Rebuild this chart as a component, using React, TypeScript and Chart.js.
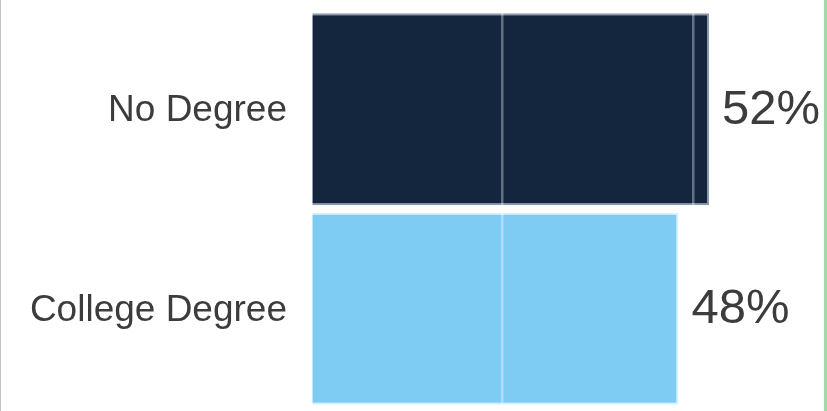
import { useEffect, useRef } from 'react';
import { Chart, registerables } from 'chart.js';

Chart.register(...registerables);

const categories = ['No Degree', 'College Degree'];
const values = [52, 48];
const barColors = ['#13263e', '#7ecbf4'];
const barBorders = ['rgba(120,135,155,0.85)', 'rgba(215,240,253,1)'];
const xMin = 0;
const xMax = 66.5;
const xStep = 25;

const valueLabelPlugin = {
  id: 'valueLabels',
  afterDraw(chart: any) {
    const ctx = chart.ctx;
    const meta = chart.getDatasetMeta(0);
    ctx.save();
    ctx.font = '49px "Liberation Sans", Arial, sans-serif';
    ctx.fillStyle = '#3c3c3c';
    ctx.textAlign = 'left';
    ctx.textBaseline = 'middle';
    meta.data.forEach((bar: any, i: number) => {
      ctx.fillText(values[i] + '%', bar.x + 13, bar.y + 1);
    });
    ctx.restore();
  },
};

const framePlugin = {
  id: 'frameLines',
  afterDraw(chart: any) {
    const ctx = chart.ctx;
    const h = chart.height;
    ctx.save();
    ctx.fillStyle = '#c4c4c4';
    ctx.fillRect(0, 0, 1, h);
    ctx.fillStyle = '#9edba6';
    ctx.fillRect(824, 0, 3, h);
    ctx.restore();
  },
};

export default function App() {
  const canvasRef = useRef<HTMLCanvasElement | null>(null);

  useEffect(() => {
    document.body.style.margin = '0';
    const canvas = canvasRef.current;
    if (!canvas) return;
    const chart = new Chart(canvas, {
      type: 'bar',
      data: {
        labels: categories,
        datasets: [
          {
            data: values,
            backgroundColor: barColors,
            borderColor: barBorders,
            borderWidth: 2,
            barPercentage: 1,
            categoryPercentage: 0.9624,
          },
        ],
      },
      options: {
        indexAxis: 'y',
        animation: false,
        responsive: true,
        maintainAspectRatio: false,
        layout: { padding: { top: 9.5, bottom: 2.5, left: 0, right: 7 } },
        plugins: {
          legend: { display: false },
          tooltip: { enabled: false },
        },
        scales: {
          x: {
            min: xMin,
            max: xMax,
            ticks: { display: false, stepSize: xStep },
            grid: {
              display: true,
              drawTicks: false,
              color: 'rgba(255,255,255,0.35)',
              lineWidth: 2.5,
              z: 1,
            },
            border: { display: false },
            afterFit: (scale: any) => {
              scale.height = 0;
              scale.paddingLeft = 0;
              scale.paddingRight = 0;
            },
          },
          y: {
            grid: { display: false, drawTicks: false },
            border: { display: false },
            ticks: {
              padding: 24,
              labelOffset: 2,
              color: '#3c3c3c',
              font: { family: '"Liberation Sans", Arial, sans-serif', size: 37 },
            },
            afterFit: (scale: any) => {
              scale.width = 311;
              scale.paddingTop = 0;
              scale.paddingBottom = 0;
            },
          },
        },
      },
      plugins: [valueLabelPlugin, framePlugin],
    });
    return () => chart.destroy();
  }, []);

  return (
    <div style={{ position: 'relative', width: 827, height: 411, background: '#ffffff' }}>
      <canvas ref={canvasRef} />
    </div>
  );
}
